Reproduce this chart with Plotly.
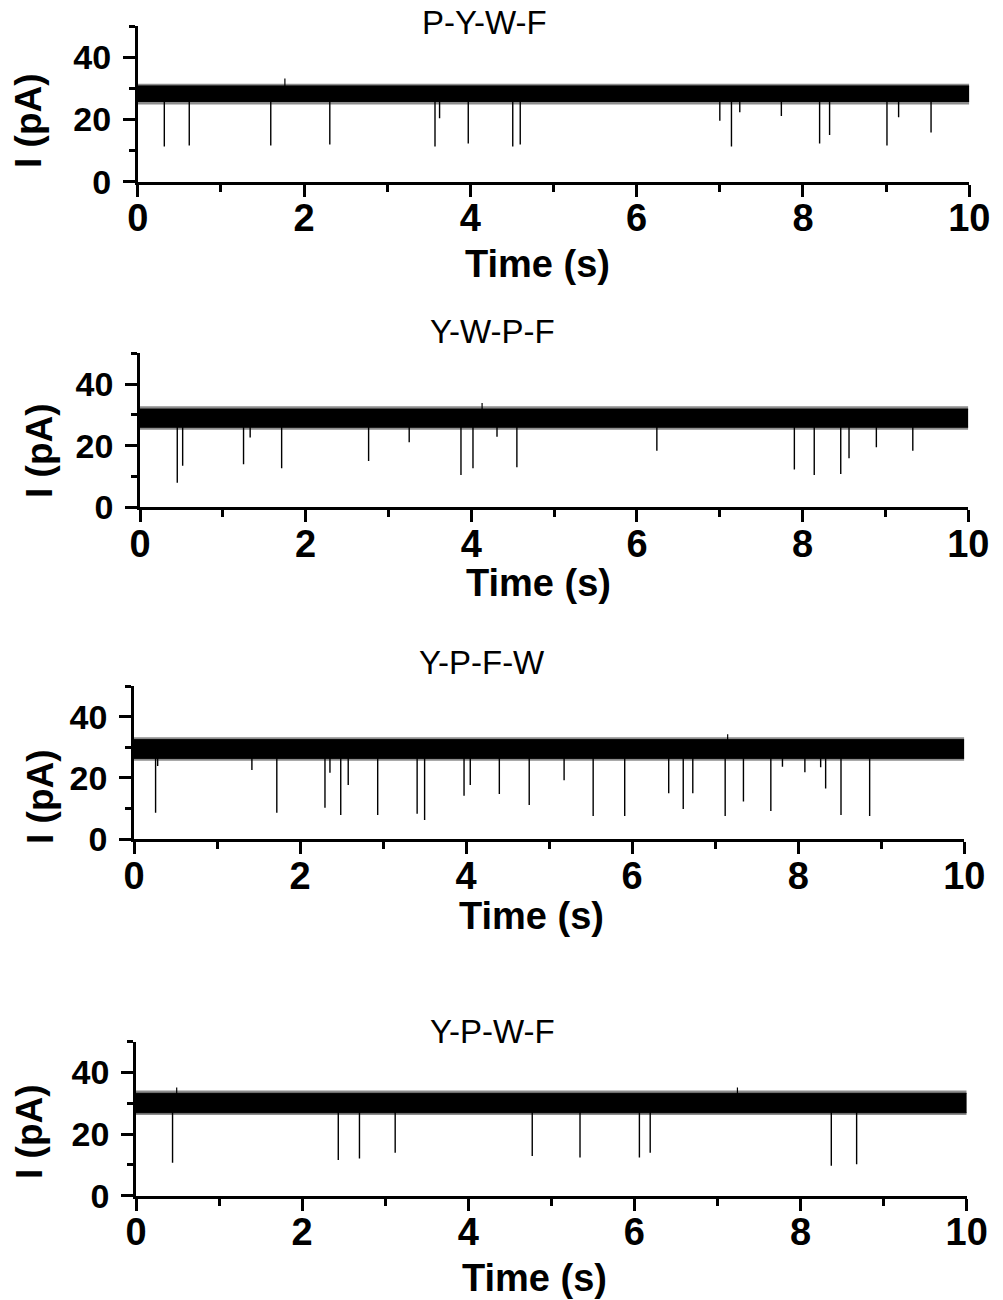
import plotly.graph_objects as go

# ---------------- data ----------------
titles = ["P-Y-W-F", "Y-W-P-F", "Y-P-F-W", "Y-P-W-F"]

trace_t = [0, 10]                       # recording window, s
band_lo = [25.8, 26.0, 26.4, 26.9]      # lower edge of dense open-pore noise band, pA
band_hi = [30.8, 31.9, 32.5, 33.2]      # upper edge of dense open-pore noise band, pA
fringe_lo = [24.8, 25.2, 25.6, 26.2]    # lower extent of noise fringe, pA
fringe_hi = [31.5, 32.8, 33.3, 34.1]    # upper extent of noise fringe, pA

# blockade events: time (s) and minimum current (pA)
ev1_t = [0.32, 0.62, 1.60, 2.31, 3.575, 3.63, 3.975, 4.51, 4.60, 7.00, 7.14, 7.24,
         7.74, 8.20, 8.32, 9.01, 9.15, 9.54]
ev1_i = [11.3, 11.6, 11.6, 12.0, 11.3, 20.4, 12.3, 11.3, 12.0, 19.6, 11.3, 22.3,
         21.1, 12.3, 15.0, 11.6, 20.7, 15.8]

ev2_t = [0.45, 0.515, 1.25, 1.33, 1.71, 2.76, 3.25, 3.875, 4.02, 4.31, 4.55, 6.24,
         7.90, 8.14, 8.46, 8.56, 8.89, 9.33]
ev2_i = [8.0, 13.5, 14.0, 22.7, 12.7, 15.0, 21.1, 10.5, 12.7, 22.9, 13.0, 18.4,
         12.3, 10.5, 10.8, 15.9, 19.5, 18.4]

ev3_t = [0.26, 0.285, 1.42, 1.72, 2.30, 2.36, 2.49, 2.58, 2.935, 3.41, 3.50, 3.975,
         4.05, 4.40, 4.76, 5.18, 5.53, 5.91, 6.44, 6.615, 6.73, 7.12, 7.34, 7.67,
         7.81, 8.08, 8.27, 8.33, 8.515, 8.86]
ev3_i = [8.7, 23.9, 22.6, 8.7, 10.3, 21.7, 7.9, 17.7, 7.9, 8.3, 6.3, 14.2,
         17.7, 14.8, 11.2, 19.3, 7.6, 7.6, 15.0, 9.9, 15.0, 7.6, 12.3, 9.2,
         23.7, 21.9, 23.5, 16.6, 7.9, 7.6]

ev4_t = [0.44, 2.435, 2.69, 3.12, 4.77, 5.345, 6.06, 6.19, 8.37, 8.675]
ev4_i = [10.7, 11.6, 12.1, 13.9, 12.9, 12.4, 12.4, 13.9, 9.7, 10.2]

# largest upward noise excursions: time (s), peak current (pA)
up1_t = [1.77]
up1_i = [33.2]
up2_t = [4.13]
up2_i = [33.9]
up3_t = [7.15]
up3_i = [34.3]
up4_t = [0.49, 7.24]
up4_i = [35.1, 35.1]

events = [(ev1_t, ev1_i), (ev2_t, ev2_i), (ev3_t, ev3_i), (ev4_t, ev4_i)]
ups = [(up1_t, up1_i), (up2_t, up2_i), (up3_t, up3_i), (up4_t, up4_i)]

x_ticks = [0, 2, 4, 6, 8, 10]
y_ticks = [0, 20, 40]

# ---------------- layout geometry (pixels in the 1003x1300 page) ----------------
W, H = 1003, 1300
# x pixel of t=0, x pixel of t=10, y pixel of I=0, y pixel of I=50
geom = [
    (137.7, 969.3, 181.7, 26.2),
    (140.0, 968.3, 507.3, 353.3),
    (134.0, 964.3, 839.3, 686.0),
    (136.0, 966.7, 1195.7, 1041.5),
]
title_pos = [(484, 22), (492, 332), (482, 662), (492, 1031)]
xlab_pos = [(537, 264), (538, 583), (531, 916), (534, 1278)]
ylab_pos = [(29, 121), (40, 451), (40, 797), (29, 1132)]

FONT = "Arial, Liberation Sans, sans-serif"

fig = go.Figure()
layout = dict(
    width=W, height=H, margin=dict(l=0, r=0, t=0, b=0),
    paper_bgcolor="white", plot_bgcolor="white", showlegend=False,
    annotations=[],
)

for k in range(4):
    xa = "x" if k == 0 else f"x{k+1}"
    ya = "y" if k == 0 else f"y{k+1}"
    # noise fringe (sparse excursions, drawn as a dark grey band)
    fig.add_trace(go.Scatter(x=trace_t, y=[fringe_hi[k]] * 2, mode="lines",
                             line=dict(color="rgba(0,0,0,0)", width=0),
                             xaxis=xa, yaxis=ya, hoverinfo="skip"))
    fig.add_trace(go.Scatter(x=trace_t, y=[fringe_lo[k]] * 2, mode="lines",
                             line=dict(color="rgba(0,0,0,0)", width=0), fill="tonexty",
                             fillcolor="rgba(0,0,0,0.45)", xaxis=xa, yaxis=ya,
                             hoverinfo="skip"))
    # dense noise band
    fig.add_trace(go.Scatter(x=trace_t, y=[band_hi[k]] * 2, mode="lines",
                             line=dict(color="black", width=1),
                             xaxis=xa, yaxis=ya, hoverinfo="skip"))
    fig.add_trace(go.Scatter(x=trace_t, y=[band_lo[k]] * 2, mode="lines",
                             line=dict(color="black", width=1), fill="tonexty",
                             fillcolor="black", xaxis=xa, yaxis=ya, hoverinfo="skip"))
    # blockade spikes
    mid = (band_lo[k] + band_hi[k]) / 2
    et, ei = events[k]
    sx, sy = [], []
    for t, i in zip(et, ei):
        sx += [t, t, None]
        sy += [mid, i, None]
    fig.add_trace(go.Scatter(x=sx, y=sy, mode="lines",
                             line=dict(color="black", width=1.4),
                             xaxis=xa, yaxis=ya, hoverinfo="skip"))
    ut, ui = ups[k]
    ux, uy = [], []
    for t, i in zip(ut, ui):
        ux += [t, t, None]
        uy += [mid, i, None]
    fig.add_trace(go.Scatter(x=ux, y=uy, mode="lines",
                             line=dict(color="black", width=1.2),
                             xaxis=xa, yaxis=ya, hoverinfo="skip"))

    x0p, x10p, y0p, y50p = geom[k]
    xkey = "xaxis" if k == 0 else f"xaxis{k+1}"
    ykey = "yaxis" if k == 0 else f"yaxis{k+1}"
    layout[xkey] = dict(
        domain=[x0p / W, x10p / W], anchor=ya, range=[0, 10], automargin=False,
        tickvals=x_ticks, ticktext=[str(v) for v in x_ticks],
        showline=True, linecolor="black", linewidth=2.6,
        ticks="outside", ticklen=12, tickwidth=2.6, tickcolor="black",
        minor=dict(dtick=1, ticks="outside", ticklen=7, tickwidth=2.6, tickcolor="black"),
        showgrid=False, zeroline=False, ticklabelstandoff=-11,
        tickfont=dict(family=FONT, size=38, color="black", weight="bold"),
    )
    layout[ykey] = dict(
        domain=[1 - y0p / H, 1 - y50p / H], anchor=xa, range=[0, 50], automargin=False,
        tickvals=y_ticks, ticktext=[str(v) for v in y_ticks],
        showline=True, linecolor="black", linewidth=2.6,
        ticks="outside", ticklen=12, tickwidth=2.6, tickcolor="black",
        minor=dict(dtick=10, ticks="outside", ticklen=6, tickwidth=2.6, tickcolor="black"),
        showgrid=False, zeroline=False, ticklabelstandoff=5,
        tickfont=dict(family=FONT, size=34, color="black", weight="bold"),
    )
    tx, ty = title_pos[k]
    layout["annotations"].append(dict(
        text=titles[k], x=tx / W, y=1 - ty / H, xref="paper", yref="paper",
        xanchor="center", yanchor="middle", showarrow=False,
        font=dict(family=FONT, size=33, color="black")))
    lx, ly = xlab_pos[k]
    layout["annotations"].append(dict(
        text="Time (s)", x=lx / W, y=1 - ly / H, xref="paper", yref="paper",
        xanchor="center", yanchor="middle", showarrow=False,
        font=dict(family=FONT, size=38, color="black", weight="bold")))
    vx, vy = ylab_pos[k]
    layout["annotations"].append(dict(
        text="I (pA)", x=vx / W, y=1 - vy / H, xref="paper", yref="paper",
        xanchor="center", yanchor="middle", showarrow=False, textangle=-90,
        font=dict(family=FONT, size=37, color="black", weight="bold")))

fig.update_layout(**layout)
fig.write_html("out.html")
